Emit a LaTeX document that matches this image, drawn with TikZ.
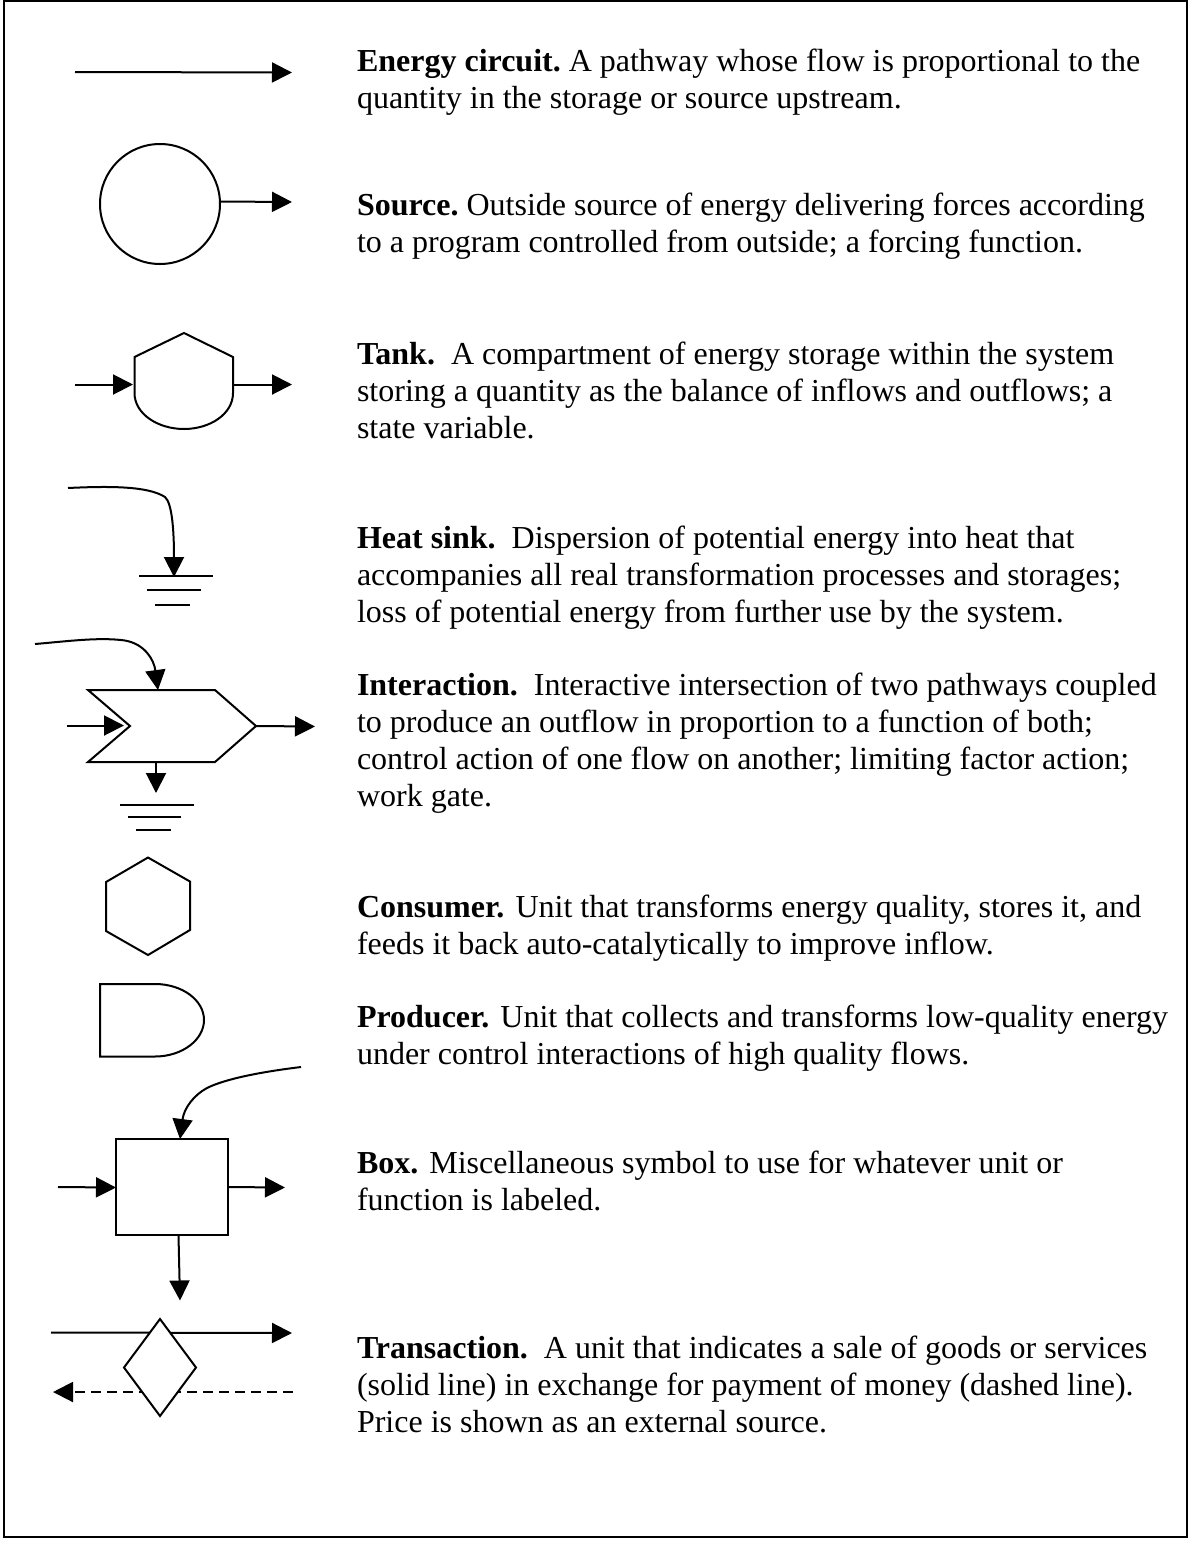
\documentclass[tikz,border=0pt]{standalone}
\usepackage{fontspec}
\setmainfont{Liberation Serif}
\usetikzlibrary{arrows.meta,shapes.geometric}
\tikzset{
  x=0.75pt,y=-0.75pt,
  every path/.style={line width=1.5pt,line join=miter},
  flow/.style={-{Triangle[length=15pt,width=15pt]}},
  sym/.style={draw,fill=white,inner sep=0pt,outer sep=0pt},
  desc/.style={anchor=base west,align=left,inner sep=0pt,outer sep=0pt,font=\fontsize{24}{27.75}\selectfont\frenchspacing},
}
\begin{document}
\begin{tikzpicture}
\useasboundingbox (0,0) rectangle (1193,1543);
\fill[white] (0,0) rectangle (1193,1543);
\node[draw,inner sep=0pt,outer sep=0pt,minimum width=887.25pt,minimum height=1152pt,anchor=north west] (frame) at (4,1) {};

% Energy circuit
\coordinate (a1) at (75,72); \coordinate (a2) at (292,72.5);
\draw[flow] (a1) -- (a2);
\node[desc] (t1) at (357,108) {{\bfseries Energy circuit.} A pathway whose flow is proportional to the\\quantity in the storage or source upstream.};

% Source
\node[sym,circle,minimum size=90pt] (src) at (160,204) {};
\coordinate (b1) at (220,201.5); \coordinate (b2) at (292,202);
\draw[flow] (b1) -- (b2);
\node[desc] (t2) at (357,252) {{\bfseries Source.} Outside source of energy delivering forces according\\to a program controlled from outside; a forcing function.};

% Tank
\coordinate (tk1) at (134.5,357); \coordinate (tk2) at (184,333); \coordinate (tk3) at (233,357);
\coordinate (tk4) at (233,393); \coordinate (tk5) at (134.5,393);
\draw (tk5) -- (tk1) -- (tk2) -- (tk3) -- (tk4) .. controls (233,414) and (210,429) .. (184,429) .. controls (158,429) and (134.5,414) .. (tk5) -- cycle;
\coordinate (c1) at (75,384.5); \coordinate (c2) at (133,384.5);
\coordinate (c3) at (233,384.5); \coordinate (c4) at (292,384.5);
\draw[flow] (c1) -- (c2);
\draw[flow] (c3) -- (c4);
\node[desc] (t3) at (357,438.5) {{\bfseries Tank.}\ \ A compartment of energy storage within the system\\storing a quantity as the balance of inflows and outflows; a\\state variable.};

% Heat sink
\coordinate (d1) at (68,488); \coordinate (d2) at (174,577);
\draw[flow] (d1) .. controls (110,486) and (148,486) .. (165,497) .. controls (172,503) and (174,530) .. (d2);
\coordinate (d3) at (139,576); \coordinate (d4) at (213,576);
\coordinate (d5) at (147,590); \coordinate (d6) at (201,590);
\coordinate (d7) at (155,604.5); \coordinate (d8) at (190,604.5);
\draw (d3) -- (d4) (d5) -- (d6) (d7) -- (d8);
\node[desc] (t4) at (357,622) {{\bfseries Heat sink.}\ \ Dispersion of potential energy into heat that\\accompanies all real transformation processes and storages;\\loss of potential energy from further use by the system.};

% Interaction
\coordinate (e1) at (88,690); \coordinate (e2) at (215,690); \coordinate (e3) at (256,726);
\coordinate (e4) at (215,762); \coordinate (e5) at (88,762); \coordinate (e6) at (130,726);
\draw (e1) -- (e2) -- (e3) -- (e4) -- (e5) -- (e6) -- cycle;
\coordinate (f1) at (35,644); \coordinate (f2) at (158,690);
\draw[flow] (f1) .. controls (70,641) and (100,637) .. (125,640.5) .. controls (145,644) and (154,660) .. (f2);
\coordinate (f3) at (67,725.5); \coordinate (f4) at (124,725.5);
\draw[flow] (f3) -- (f4);
\coordinate (f5) at (315,726.5);
\draw[flow] (e3) -- (f5);
\coordinate (f6) at (156,762); \coordinate (f7) at (156,793);
\draw[flow] (f6) -- (f7);
\coordinate (g1) at (120,805); \coordinate (g2) at (194,805);
\coordinate (g3) at (128,817); \coordinate (g4) at (181,817);
\coordinate (g5) at (136,830); \coordinate (g6) at (171,830);
\draw (g1) -- (g2) (g3) -- (g4) (g5) -- (g6);
\node[desc] (t5) at (357,806) {{\bfseries Interaction.}\ \ Interactive intersection of two pathways coupled\\to produce an outflow in proportion to a function of both;\\control action of one flow on another; limiting factor action;\\work gate.};

% Consumer
\draw (148,857.5) coordinate (h1) -- (190,881.5) -- (190,930) -- (148,955) -- (106,931) -- (106,882) -- cycle;
\node[desc] (t6) at (357,954) {{\bfseries Consumer.}\hspace{2.5pt} Unit that transforms energy quality, stores it, and\\feeds it back auto-catalytically to improve inflow.};

% Producer
\draw (155,984) -- (100,984) -- (100,1056.5) -- (155,1056.5) .. controls (182,1056.5) and (204,1040) .. (204,1020) .. controls (204,1000) and (182,984) .. (155,984) -- cycle;
\node[desc] (t7) at (357,1064) {{\bfseries Producer.}\hspace{2.25pt} Unit that collects and transforms low-quality energy\\under control interactions of high quality flows.};

% Box
\node[sym,rectangle,minimum width=84pt,minimum height=72pt,anchor=north west] (box) at (116,1139) {};
\coordinate (i1) at (301,1067); \coordinate (i2) at (180,1139);
\draw[flow] (i1) .. controls (260,1072) and (225,1079) .. (207,1088) .. controls (194,1095) and (184,1108) .. (i2);
\coordinate (i3) at (58,1187); \coordinate (i4) at (116,1187.5);
\draw[flow] (i3) -- (i4);
\coordinate (i5) at (228,1187); \coordinate (i6) at (285,1187.5);
\draw[flow] (i5) -- (i6);
\coordinate (i7) at (178.5,1235); \coordinate (i8) at (180,1300.5);
\draw[flow] (i7) -- (i8);
\node[desc] (t8) at (357,1210) {{\bfseries Box.}\hspace{2.25pt} Miscellaneous symbol to use for whatever unit or\\function is labeled.};

% Transaction
\coordinate (j1) at (51,1332.5); \coordinate (j2) at (292,1333);
\draw[flow] (j1) -- (j2);
\coordinate (j3) at (293,1392); \coordinate (j4) at (53,1392);
\draw[flow,dash pattern=on 7.5pt off 4.5pt] (j3) -- (j4);
\node[sym,diamond,aspect=0.75,minimum width=54pt,minimum height=72.75pt] (dia) at (160,1367.5) {};
\node[desc] (t9) at (357,1432) {{\bfseries Transaction.}\ \ A unit that indicates a sale of goods or services\\(solid line) in exchange for payment of money (dashed line).\\Price is shown as an external source.};
\end{tikzpicture}
\end{document}
